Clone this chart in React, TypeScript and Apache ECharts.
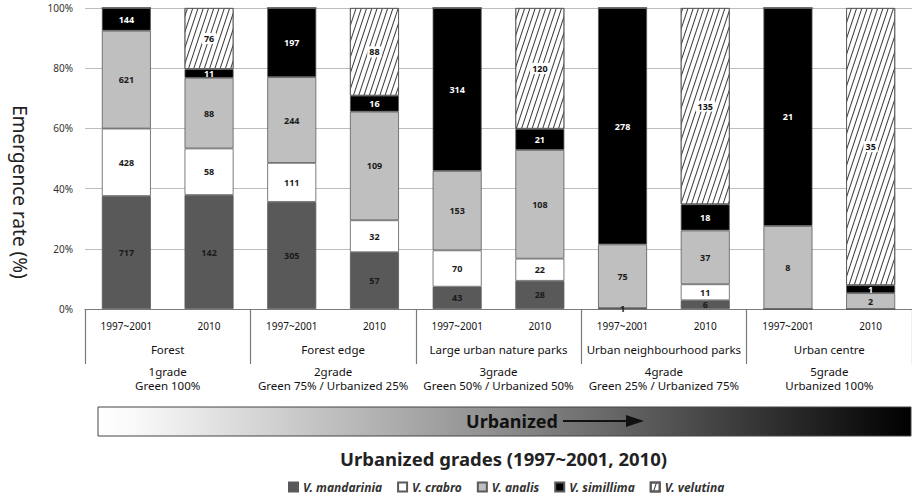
import React, { useEffect, useRef } from "react";
import * as echarts from "echarts";

// Emergence counts per species, one value per survey column (5 habitats x 2 periods)
const periods = ["1997~2001", "2010"];
const habitats = [
  "Forest",
  "Forest edge",
  "Large urban nature parks",
  "Urban neighbourhood parks",
  "Urban centre",
];
const grades = ["1grade", "2grade", "3grade", "4grade", "5grade"];
const compositions = [
  "Green 100%",
  "Green 75% / Urbanized 25%",
  "Green 50% / Urbanized 50%",
  "Green 25% / Urbanized 75%",
  "Urbanized 100%",
];

const speciesNames = ["V. mandarinia", "V. crabro", "V. analis", "V. simillima", "V. velutina"];
const mandarinia = [717, 142, 305, 57, 43, 28, 1, 6, 0, 0];
const crabro = [428, 58, 111, 32, 70, 22, 0, 11, 0, 0];
const analis = [621, 88, 244, 109, 153, 108, 75, 37, 8, 2];
const simillima = [144, 11, 197, 16, 314, 21, 278, 18, 21, 1];
const velutina = [0, 76, 0, 88, 0, 120, 0, 135, 0, 35];

const yTicks = [0, 20, 40, 60, 80, 100];

const FONT = "Noto Sans";

export default function App() {
  const ref = useRef<HTMLDivElement>(null);

  useEffect(() => {
    if (!ref.current) return;
    const chart = echarts.init(ref.current, undefined, { renderer: "svg" });

    const columns = habitats.flatMap(() => periods);
    const counts = [mandarinia, crabro, analis, simillima, velutina];
    const totals = columns.map((_, i) => counts.reduce((s, arr) => s + arr[i], 0));

    const fills = ["#595959", "#ffffff", "#bfbfbf", "#000000", "#ffffff"];
    const labelColors = ["#1a1a1a", "#1a1a1a", "#1a1a1a", "#ffffff", "#111111"];

    const series = counts.map((arr, si) => ({
      name: speciesNames[si],
      type: "bar",
      stack: "share",
      barWidth: 49,
      itemStyle: {
        color: fills[si],
        borderColor: "#5a5a5a",
        borderWidth: 0.8,
        ...(si === 4
          ? {
              decal: {
                symbol: "rect",
                symbolSize: 1,
                color: "#3a3a3a",
                dashArrayX: [1, 0],
                dashArrayY: [1, 3.2],
                rotation: -1.25,
              },
            }
          : {}),
      },
      label: {
        show: true,
        position: "inside",
        fontFamily: FONT,
        fontSize: 9,
        fontWeight: "bold",
        color: labelColors[si],
        ...(si === 4 ? { backgroundColor: "#fff", padding: [1, 2] } : {}),
        formatter: (p: any) => String(arr[p.dataIndex]),
      },
      data: arr.map((c, i) => ({
        value: (c / totals[i]) * 100,
        label: { show: c > 0 },
      })),
    }));

    const gridLeft = 85;
    const gridWidth = 837;
    const gridCenter = gridLeft + gridWidth / 2;

    chart.setOption({
      animation: false,
      textStyle: { fontFamily: FONT },
      grid: { left: gridLeft, top: 8, width: gridWidth, height: 301 },
      legend: {
        data: speciesNames,
        left: 283,
        top: 476,
        itemWidth: 9,
        itemHeight: 9,
        itemGap: 15,
        icon: "rect",
        textStyle: {
          fontFamily: FONT,
          fontSize: 12,
          fontStyle: "italic",
          fontWeight: "bold",
          color: "#333",
        },
      },
      xAxis: [
        {
          type: "category",
          data: columns,
          position: "bottom",
          axisLine: { show: true, lineStyle: { color: "#7a7a7a", width: 1.2 } },
          axisTick: { show: false },
          axisLabel: { interval: 0, margin: 12, fontSize: 10, color: "#111", fontFamily: FONT },
        },
        {
          type: "category",
          data: habitats,
          position: "bottom",
          axisLine: { show: false },
          axisTick: { show: true, length: 55, interval: 0, lineStyle: { color: "#7a7a7a", width: 1.2 } },
          axisLabel: {
            interval: 0,
            margin: 25,
            color: "#111",
            formatter: (v: string, i: number) =>
              `{n|${v}}\n{g|${grades[i]}}\n{g|${compositions[i]}}`,
            rich: {
              n: { fontSize: 11.5, lineHeight: 30, color: "#111", fontFamily: FONT },
              g: { fontSize: 11.5, lineHeight: 14, color: "#111", fontFamily: FONT },
            },
          },
        },
      ],
      yAxis: {
        type: "value",
        min: 0,
        max: 100,
        interval: 20,
        axisLine: { show: false },
        axisTick: { show: false },
        axisLabel: {
          margin: 12,
          fontSize: 10,
          color: "#333",
          fontFamily: FONT,
          formatter: (v: number) => (yTicks.includes(v) ? `${v}%` : ""),
        },
        splitLine: { lineStyle: { color: "#bdbdbd", width: 1.2 } },
      },
      graphic: [
        {
          type: "text",
          x: 20,
          y: 192,
          rotation: -Math.PI / 2,
          style: {
            text: "Emergence rate (%)",
            fontFamily: FONT,
            fontSize: 19,
            fill: "#222",
            align: "center",
            verticalAlign: "middle",
          },
        },
        {
          type: "rect",
          shape: { x: 98, y: 407, width: 813, height: 29 },
          style: {
            fill: new echarts.graphic.LinearGradient(0, 0, 1, 0, [
              { offset: 0, color: "#ffffff" },
              { offset: 0.05, color: "#f8f8f8" },
              { offset: 0.5, color: "#8c8c8c" },
              { offset: 1, color: "#000000" },
            ]),
            stroke: "#444",
            lineWidth: 1,
          },
        },
        {
          type: "text",
          x: 512,
          y: 421,
          style: {
            text: "Urbanized",
            fontFamily: FONT,
            fontSize: 18,
            fontWeight: "bold",
            fill: "#111",
            align: "center",
            verticalAlign: "middle",
          },
        },
        {
          type: "line",
          shape: { x1: 563, y1: 421, x2: 630, y2: 421 },
          style: { stroke: "#111", lineWidth: 2 },
        },
        {
          type: "polygon",
          shape: { points: [[626, 415], [644, 421], [626, 427]] },
          style: { fill: "#111" },
        },
        {
          type: "text",
          x: gridCenter,
          y: 458,
          style: {
            text: "Urbanized grades (1997~2001, 2010)",
            fontFamily: FONT,
            fontSize: 18.5,
            fontWeight: "bold",
            fill: "#222",
            align: "center",
            verticalAlign: "middle",
          },
        },
      ],
      series,
    });

    return () => chart.dispose();
  }, []);

  return (
    <div
      ref={ref}
      style={{ position: "fixed", left: 0, top: 0, width: 912, height: 502, background: "#fff" }}
    />
  );
}
